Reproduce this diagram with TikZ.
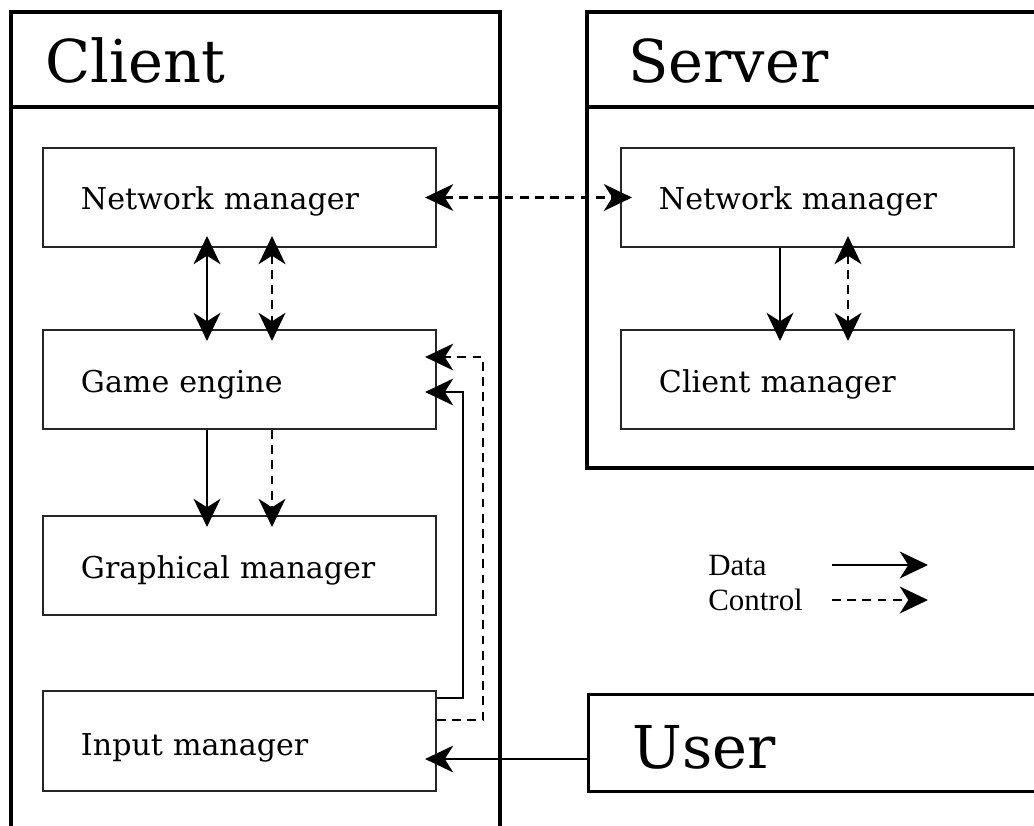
\documentclass[tikz,border=0pt]{standalone}
\usepackage{fontspec}
\setmainfont{DejaVu Serif}
\newfontfamily\legendfont{Liberation Serif}
\usetikzlibrary{arrows.meta}

\begin{document}
\begin{tikzpicture}[x=0.025cm, y=-0.025cm,
  outer/.style={line width=2.2pt, draw=black},
  box/.style={draw=black!85, line width=1.4pt, rectangle, anchor=north west,
    minimum width=9.825cm, minimum height=2.475cm, text width=7.925cm,
    inner xsep=0.95cm, inner ysep=0pt, align=left,
    text height=19pt, text depth=0pt,
    font=\fontsize{21.4}{25}\selectfont},
  title/.style={anchor=base west, inner sep=0pt, font=\fontsize{42}{50}\selectfont},
  legend/.style={anchor=base west, inner sep=0pt, font=\legendfont\fontsize{22}{26}\selectfont},
  tip/.tip={Stealth[length=20pt, width=19pt, inset=6pt]},
  data/.style={line width=1.9pt},
  ctrl/.style={line width=1.9pt, dash pattern=on 0.22cm off 0.16cm},
  one/.style={-tip, shorten >=-0.3cm},
  two/.style={tip-tip, shorten <=-0.3cm, shorten >=-0.3cm},
]
\useasboundingbox (0,0) rectangle (1034,825);
\clip (0,0) rectangle (1034,825);

% containers
\draw[outer] (11,12) rectangle (500,860);
\draw[outer] (11,107) -- (500,107);
\node[title] (clienttitle) at (45,82) {Client};

\draw[outer] (587,12) rectangle (1060,468);
\draw[outer] (587,107) -- (1060,107);
\node[title] (servertitle) at (628,82) {Server};

\node[outer, rectangle, anchor=north west, minimum width=11.825cm, minimum height=2.425cm] (user) at (587,693) {};
\node[title] (usertitle) at (632,768) {User};

% components
\node[box, text height=16.5pt] (cnm) at (42,147) {Network manager};
\node[box] (ge)  at (42,329) {Game engine};
\node[box] (gm)  at (42,515) {Graphical manager};
\node[box, minimum height=2.5cm, text height=21pt] (inp) at (42,690) {Input manager};
\node[box, text height=16.5pt] (snm) at (620,147) {Network manager};
\node[box] (cm)  at (620,329) {Client manager};

% guide lines for connectors
\coordinate (xa) at (207,0);
\coordinate (xb) at (272,0);
\coordinate (xc) at (780,0);
\coordinate (xd) at (848,0);
\coordinate (xe) at (463,0);
\coordinate (xf) at (483,0);
\coordinate (ya) at (0,698);
\coordinate (yb) at (0,720);
\coordinate (yc) at (0,392);
\coordinate (yd) at (0,357);
\coordinate (ye) at (0,759);

% connectors
\draw[ctrl,two] (cnm.east) -- (snm.west);
\draw[data,two] (cnm.south -| xa) -- (ge.north -| xa);
\draw[ctrl,two] (cnm.south -| xb) -- (ge.north -| xb);
\draw[data,one] (ge.south -| xa) -- (gm.north -| xa);
\draw[ctrl,one] (ge.south -| xb) -- (gm.north -| xb);
\draw[data,one] (snm.south -| xc) -- (cm.north -| xc);
\draw[ctrl,two] (snm.south -| xd) -- (cm.north -| xd);
\draw[data,one] (inp.east |- ya) -| (xe |- yc) -- (ge.east |- yc);
\draw[ctrl,one] (inp.east |- yb) -| (xf |- yd) -- (ge.east |- yd);
\draw[data,one] (user.west |- ye) -- (inp.east |- ye);

% legend
\node[legend] (ldata) at (708,575) {Data};
\node[legend] (lctrl) at (708,610) {Control};
\coordinate (la) at (832,565);
\coordinate (lb) at (928,565);
\coordinate (lc) at (832,600);
\coordinate (ld) at (928,600);
\draw[data,-tip] (la) -- (lb);
\draw[ctrl,-tip] (lc) -- (ld);
\end{tikzpicture}
\end{document}
